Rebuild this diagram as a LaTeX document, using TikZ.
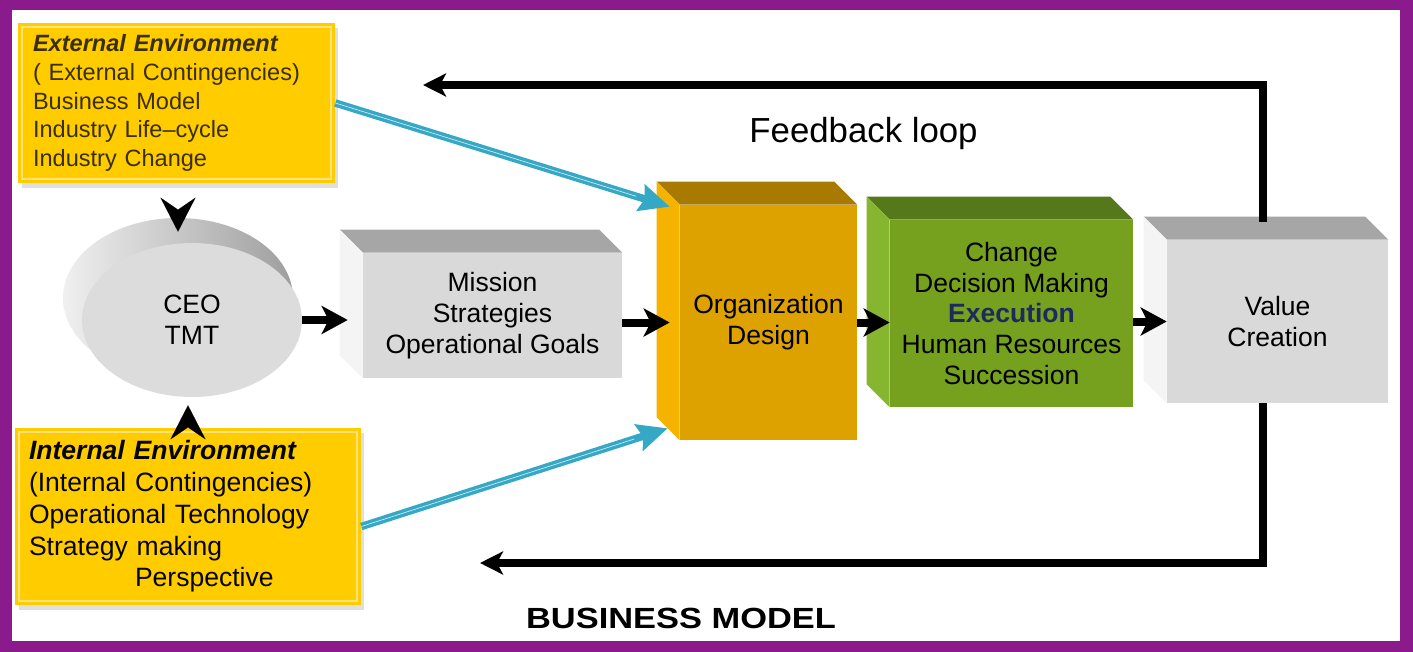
\documentclass[tikz,border=0pt]{standalone}
\usepackage{fontspec}
\setmainfont{Liberation Sans}
\usepackage{graphicx}
\usetikzlibrary{arrows.meta,calc,shapes.geometric,shadows}

\definecolor{frame}{HTML}{8B1A8C}
\definecolor{envyellow}{HTML}{FFCC00}
\definecolor{envline}{HTML}{FFE27A}
\definecolor{envtext}{HTML}{3B2E00}
\definecolor{boxfront}{HTML}{D9D9D9}
\definecolor{boxtop}{HTML}{A6A6A6}
\definecolor{boxside}{HTML}{F4F4F4}
\definecolor{orgfront}{HTML}{DDA100}
\definecolor{orgtop}{HTML}{A87A00}
\definecolor{orgside}{HTML}{F5B300}
\definecolor{chgfront}{HTML}{76A11F}
\definecolor{chgtop}{HTML}{55791A}
\definecolor{chgside}{HTML}{86B530}
\definecolor{execblue}{HTML}{1C2A5E}
\definecolor{linkcyan}{HTML}{35A8C6}
\definecolor{ceofront}{HTML}{DCDCDC}

\begin{document}
\begin{tikzpicture}[x=0.02cm, y=-0.02cm,
		face/.style={inner sep=0pt, align=center, font=\fontsize{15.1}{17.6}\selectfont},
		envbox/.style={fill=envyellow, align=left, minimum height=#1, drop shadow={shadow xshift=2pt, shadow yshift=-3pt, opacity=0.25}},
		flow/.style={line width=0.16cm, -{Stealth[length=0.52cm, width=0.56cm, inset=0.14cm]}},
		loop/.style={line width=0.15cm, -{Stealth[length=0.46cm, width=0.46cm, inset=0.12cm]}},
		chev/.style={line width=0.01pt, -{Stealth[length=0.68cm, width=0.7cm, inset=0.24cm]}},
		link/.style={linkcyan, line width=0.15cm, -{Stealth[length=0.6cm, width=0.54cm, inset=0.08cm]}},
		linkhi/.style={white, line width=0.4pt, opacity=0.75, shorten >=0.7cm}]

	\useasboundingbox (0,0) rectangle (1413,652);
	\fill[frame] (0,0) rectangle (1413,652);
	\fill[white] (12,10) rectangle (1400,641);

	% feedback loop
	\coordinate (fbtop) at (423,85);
	\coordinate (fbbot) at (480,563);

	% environment boxes
	\node[envbox=3.2cm, text width=5.74cm, inner xsep=0.3cm, text=envtext, font=\fontsize{13.4}{16.3}\selectfont] (ext) at (176.5,103)
		{\textbf{\textit{External Environment}}\\( External Contingencies)\\Business Model\\Industry Life--cycle\\Industry Change};
	\node[envbox=3.54cm, text width=6.36cm, inner xsep=0.28cm, text=black!90!envtext, font=\fontsize{15.1}{18.1}\selectfont] (int) at (188,516.5)
		{\textbf{\textit{Internal Environment}}\\(Internal Contingencies)\\Operational Technology\\Strategy making\\\hspace*{2.12cm}Perspective};
	\foreach \e in {ext, int}
	\draw[envline, line width=1pt] ([shift={(4,4)}]\e.north west) rectangle ([shift={(-4,-4)}]\e.south east);

	% CEO disc
	\node[ellipse, minimum width=4.6cm, minimum height=3.2cm, left color=black!6, right color=black!38] (ceob) at (178,298) {};
	\node[ellipse, face, fill=ceofront, minimum width=4.4cm, minimum height=3.08cm] (ceo) at (192,320) {CEO\\TMT};

	% front faces of the blocks
	\node[face, fill=boxfront, minimum width=5.18cm, minimum height=2.5cm] (mis) at (492.5,315.5) {Mission\\Strategies\\Operational Goals};
	\node[face, fill=orgfront, minimum width=3.54cm, minimum height=4.7cm] (org) at (768.5,322.5) {Organization\\Design};
	\node[face, fill=chgfront, minimum width=4.86cm, minimum height=3.74cm] (chg) at (1011.5,313.5)
		{Change\\Decision Making\\\textcolor{execblue}{\textbf{Execution}}\\Human Resources\\Succession};
	\node[face, fill=boxfront, minimum width=4.42cm, minimum height=3.26cm] (val) at (1277.5,321.5) {Value\\Creation};

	\foreach \b/\t/\s in {mis/boxtop/boxside, org/orgtop/orgside, chg/chgtop/chgside, val/boxtop/boxside}
	{
		\fill[\t] (\b.north west) -- ++(-23,-23) -- ($(\b.north east)+(-23,-23)$) -- (\b.north east) -- cycle;
		\fill[\s] (\b.north west) -- ++(-23,-23) -- ($(\b.south west)+(-23,-23)$) -- (\b.south west) -- cycle;
	}

	\draw[loop] ($(val.north)+(-14.5,-18)$) |- (fbtop);
	\draw[loop] ($(val.south)+(-14.5,0)$) |- (fbbot);

	\draw[flow, shorten >=0.3cm] (ceo.east) -- (ceo.east -| mis.west);
	\draw[flow, shorten >=0.2cm] (mis.east |- org.west) -- (org.west);
	\draw[flow] (org.east) -- (org.east -| chg.west);
	\draw[flow] (chg.east |- val.west) -- (val.west);

	\draw[chev, shorten <=0.57cm, shorten >=-0.28cm] (ext.south -| ceob.north) -- (ceob.north);
	\draw[chev, shorten <=0.05cm, shorten >=0.16cm] (int.north) -- (int.north |- ceo.south);

	% links into the organization design
	\coordinate (intout) at ($(int.east)+(0,10)$);
	\coordinate (orgtl) at ($(org.north west)+(-10,2)$);
	\coordinate (orgbl) at ($(org.south west)+(-12,-12)$);
	\foreach \a/\b in {ext.east/orgtl, intout/orgbl}
	{
		\draw[link] (\a) -- (\b);
		\draw[linkhi] (\a) -- (\b);
	}

	\node[font=\fontsize{19.8}{22}\selectfont] (fbtext) at (863.5,134) {Feedback loop};
	\node[font=\bfseries\fontsize{16.6}{20}\selectfont] (bm) at (681,618.5) {\scalebox{1.18}[1]{BUSINESS MODEL}};
\end{tikzpicture}
\end{document}
